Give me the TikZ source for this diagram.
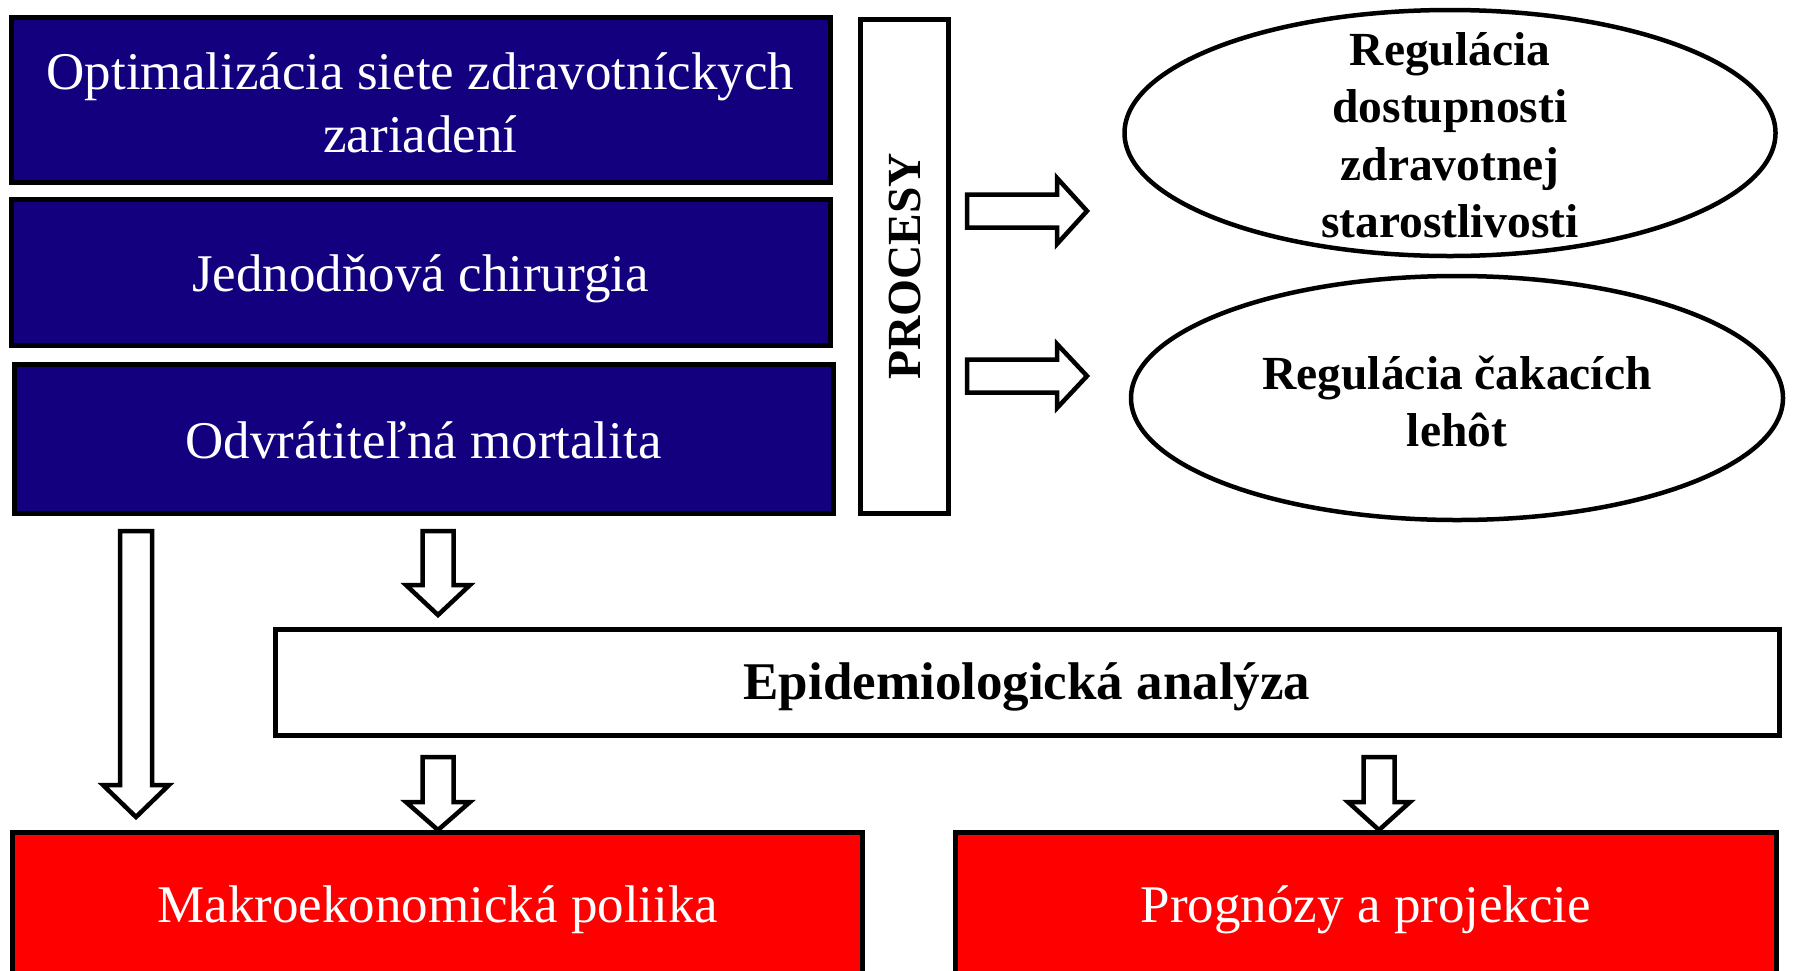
\documentclass[tikz,border=0pt]{standalone}
\usepackage{fontspec}
\setmainfont{Liberation Serif}
\usetikzlibrary{shapes.geometric}
\definecolor{boxblue}{HTML}{13007E}
\definecolor{boxred}{HTML}{FF0000}
\newcommand\downarr[7]{% name, cx, ytop, yhead, ytip, halfshaft, halfhead
  \draw[blockarrow] (#2-#6,#3) -- (#2+#6,#3) -- (#2+#6,#4) -- (#2+#7,#4) -- (#2,#5)
    coordinate (#1) -- (#2-#7,#4) -- (#2-#6,#4) -- cycle;}
\newcommand\rightarr[7]{% name, cy, xleft, xhead, xtip, halfshaft, halfhead
  \draw[blockarrow] (#3,#2-#6) -- (#3,#2+#6) -- (#4,#2+#6) -- (#4,#2+#7) -- (#5,#2)
    coordinate (#1) -- (#4,#2-#7) -- (#4,#2-#6) -- cycle;}
\begin{document}
\begin{tikzpicture}[x=1pt,y=-1pt,
  bluebox/.style={draw=black, line width=5pt, fill=boxblue,
    rectangle, inner sep=0pt},
  redbox/.style={draw=black, line width=5pt, fill=boxred,
    rectangle, inner sep=0pt},
  whitebox/.style={draw=black, line width=5pt, fill=white, rectangle,
    inner sep=0pt},
  oval/.style={draw=black, line width=4.5pt, fill=white, ellipse,
    inner sep=0pt},
  lighttext/.style={text=white, inner sep=0pt, align=center,
    font=\fontsize{53}{63}\selectfont},
  boldtext/.style={text=black, inner sep=0pt, align=center,
    font=\bfseries\fontsize{47.5}{57.5}\selectfont},
  blockarrow/.style={draw=black, line width=4.5pt, fill=white, line join=miter}]
\clip (0,0) rectangle (1795,970);
\fill[white] (0,0) rectangle (1795,970);

% top-left blue boxes
\node[bluebox, minimum width=819, minimum height=165] (b1) at (420.5,99.5) {};
\node[lighttext] (b1t) at (420.5,102.5) {Optimalizácia siete zdravotníckych\\zariadení};
\node[bluebox, minimum width=819, minimum height=146] (b2) at (420.5,272) {};
\node[lighttext] (b2t) at (420.5,279) {Jednodňová chirurgia};
\node[bluebox, minimum width=819, minimum height=149] (b3) at (423.5,438.5) {};
\node[lighttext] (b3t) at (423.5,440) {Odvrátiteľná mortalita};

% PROCESY
\node[whitebox, minimum width=88, minimum height=494] (proc) at (904.5,266.5) {};
\node[boldtext, rotate=90] (proclbl) at (proc.center) {PROCESY};

% ellipses
\node[oval, minimum width=651, minimum height=246] (e1) at (1450,133) {};
\node[boldtext] (e1t) at (1450,135) {Regulácia\\dostupnosti\\zdravotnej\\starostlivosti};
\node[oval, minimum width=652, minimum height=244] (e2) at (1457,398) {};
\node[boldtext] (e2t) at (1457,401.5) {Regulácia čakacích\\lehôt};

% Epidemiological analysis
\node[whitebox, minimum width=1504, minimum height=106] (epi) at (1027,682) {};
\node[boldtext, font=\bfseries\fontsize{53}{63}\selectfont] (epit) at (1027,687) {Epidemiologická analýza};

% red boxes
\node[redbox, minimum width=850, minimum height=150] (r1) at (437,907) {};
\node[lighttext] (r1t) at (438,910) {Makroekonomická poliika};
\node[redbox, minimum width=821, minimum height=150] (r2) at (1365.5,907) {};
\node[lighttext] (r2t) at (1366,910) {Prognózy a projekcie};

% block arrows
\rightarr{ra1}{211}{967}{1057}{1087}{16.5}{33}
\rightarr{ra2}{376}{967}{1057}{1087}{16.5}{32}
\downarr{da1}{136}{531}{785}{817}{16}{33}
\downarr{da2}{438}{531}{585}{615}{15.5}{32}
\downarr{da3}{438}{757}{802}{830}{15.5}{32}
\downarr{da4}{1379}{757}{802}{830}{15.5}{31}
\end{tikzpicture}
\end{document}
